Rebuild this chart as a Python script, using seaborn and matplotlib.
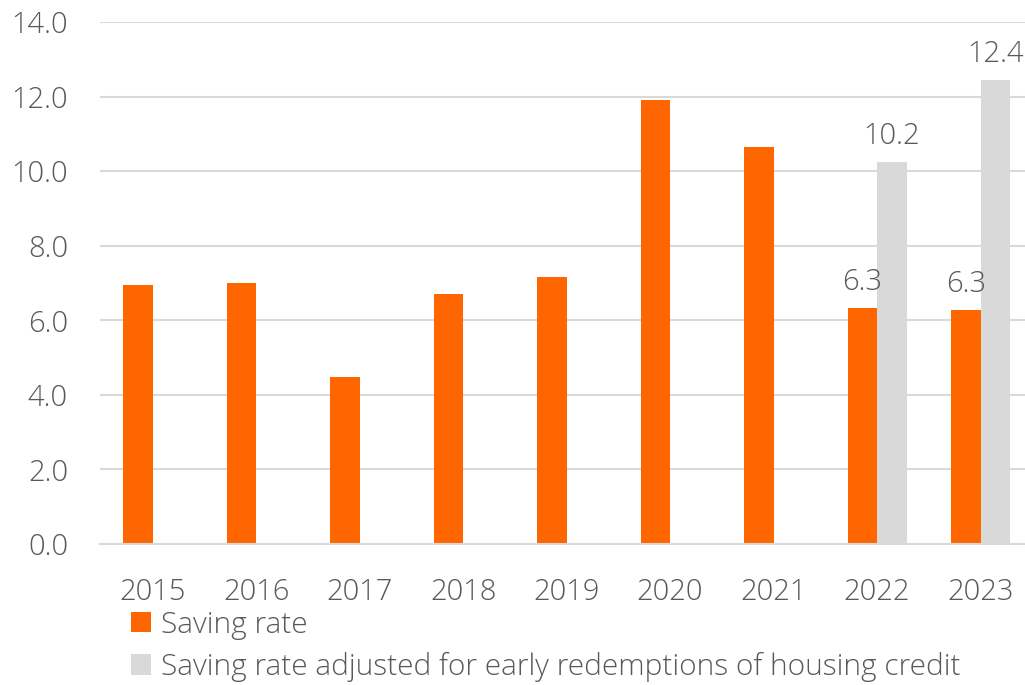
import matplotlib
matplotlib.use("Agg")
import matplotlib.pyplot as plt
import seaborn as sns
import pandas as pd
import numpy as np
from matplotlib.patches import Patch

years = ["2015", "2016", "2017", "2018", "2019", "2020", "2021", "2022", "2023"]
saving_rate = [6.95, 7.0, 4.48, 6.7, 7.16, 11.9, 10.65, 6.33, 6.27]
adjusted_rate = [np.nan, np.nan, np.nan, np.nan, np.nan, np.nan, np.nan, 10.24, 12.44]
series_names = ["Saving rate", "Saving rate adjusted for early redemptions of housing credit"]
label_years = ["2022", "2023"]
yticks = [0, 2, 4, 6, 8, 10, 12, 14]

ORANGE = "#FF6600"
GREY = "#D9D9D9"
TEXT = "#595959"

sns.set_theme(style="white")
plt.rcParams["font.family"] = ["Open Sans", "DejaVu Sans"]

df = pd.DataFrame({
    "year": years * 2,
    "value": saving_rate + adjusted_rate,
    "series": [series_names[0]] * len(years) + [series_names[1]] * len(years),
})

fig = plt.figure(figsize=(10.25, 6.85), dpi=100)
ax = fig.add_axes([100 / 1025, 1 - 544 / 685, 925 / 1025, (544 - 22) / 685])

sns.barplot(data=df, x="year", y="value", hue="series", order=years,
            hue_order=series_names, palette=[ORANGE, GREY], width=0.57,
            gap=0, dodge=True, ax=ax, legend=False, saturation=1, linewidth=0)

# data labels for 2022 and 2023
label_idx = [years.index(y) for y in label_years]
for container in ax.containers:
    for bar in container:
        if bar is None:
            continue
        h = bar.get_height()
        if np.isnan(h):
            continue
        cx = bar.get_x() + bar.get_width() / 2
        if int(round(cx)) in label_idx:
            ax.annotate(f"{h:.1f}", (cx, h), xytext=(0, 8), textcoords="offset points",
                        ha="center", va="bottom", fontsize=21, color=TEXT,
                        fontweight="light")

ax.set_ylim(0, 14)
ax.set_yticks(yticks)
ax.set_yticklabels([f"{t:.1f}" for t in yticks])
ax.set_xlim(-0.51, 8.43)
ax.set_xlabel("")
ax.set_ylabel("")

ax.yaxis.grid(True, color=GREY, linewidth=1.5)
ax.set_axisbelow(True)
for s in ["top", "right", "left"]:
    ax.spines[s].set_visible(False)
ax.spines["bottom"].set_color(GREY)
ax.spines["bottom"].set_linewidth(1.5)

ax.tick_params(axis="y", length=0, pad=23, labelsize=21, labelcolor=TEXT)
ax.tick_params(axis="x", length=0, pad=24, labelsize=21, labelcolor=TEXT)
for lbl in ax.get_xticklabels() + ax.get_yticklabels():
    lbl.set_fontweight("light")

handles = [Patch(facecolor=ORANGE, edgecolor="none"), Patch(facecolor=GREY, edgecolor="none")]
leg = fig.legend(handles, series_names, loc="upper left",
                 bbox_to_anchor=(131 / 1025, 1 - 610 / 685), frameon=False,
                 fontsize=21.5, handlelength=0.67, handleheight=0.67,
                 handletextpad=0.35, labelspacing=0.42, borderaxespad=0, borderpad=0)
for t in leg.get_texts():
    t.set_color(TEXT)
    t.set_fontweight("light")

fig.savefig("out.png", dpi=100)
